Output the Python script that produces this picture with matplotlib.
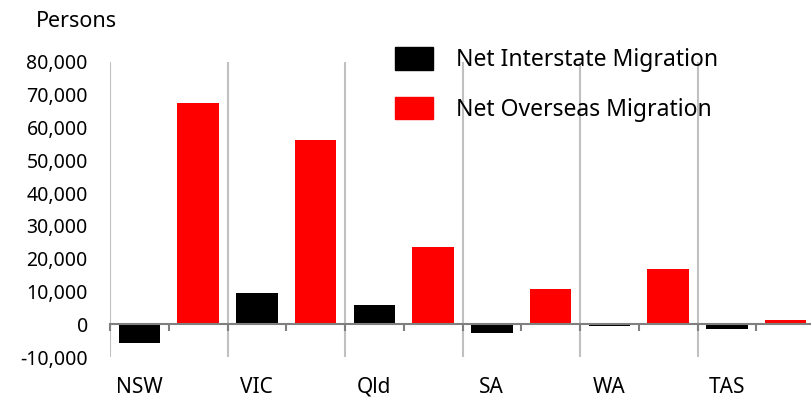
import matplotlib.pyplot as plt
import numpy as np
from matplotlib.patches import Patch
from matplotlib.ticker import FuncFormatter

# Net migration by state, persons
states = ['NSW', 'VIC', 'Qld', 'SA', 'WA', 'TAS']
net_interstate = [-5800, 9500, 5800, -2750, -600, -1500]
net_overseas = [67500, 56200, 23500, 10600, 16800, 1200]

plt.rcParams['font.family'] = ['Noto Sans', 'DejaVu Sans']

fig = plt.figure(figsize=(8.11, 4.0), dpi=100)
ax = fig.add_axes([110 / 811, 43 / 400, 705 / 811, 295 / 400])

x = np.arange(len(states))
w = 0.355
ax.bar(x - 0.25, net_interstate, width=w, color='black', zorder=3)
ax.bar(x + 0.25, net_overseas, width=w, color='#ff0000', zorder=3)

ax.set_xlim(-0.5, len(states) - 0.5)
ax.set_ylim(-10000, 80000)
ax.set_yticks(np.arange(-10000, 80001, 10000))
ax.yaxis.set_major_formatter(FuncFormatter(lambda v, p: f'{int(v):,}'))
ax.tick_params(axis='y', length=0, pad=16, labelsize=14)

# vertical separators between states
for b in x - 0.5:
    ax.axvline(b, color='#c0c0c0', lw=1.5, zorder=1)

# zero line with small ticks between the bars
for s in ['top', 'right', 'left']:
    ax.spines[s].set_visible(False)
ax.spines['bottom'].set_position(('data', 0))
ax.spines['bottom'].set_color('#7f7f7f')
ax.spines['bottom'].set_linewidth(1.5)
ax.spines['bottom'].set_zorder(4)
ax.set_xticks(np.arange(-0.5, len(states) - 0.4, 0.5))
ax.set_xticklabels([])
ax.tick_params(axis='x', length=5, width=1.5, color='#7f7f7f', direction='out')

for i, s in enumerate(states):
    ax.text(i - 0.25, -0.122, s, transform=ax.get_xaxis_transform(),
            ha='center', va='baseline', fontsize=15)

fig.text(36 / 811, 1 - 27 / 400, 'Persons', ha='left', va='baseline', fontsize=15.5)

handles = [Patch(color='black'), Patch(color='#ff0000')]
ax.legend(handles, ['Net Interstate Migration', 'Net Overseas Migration'],
          loc='upper left', bbox_to_anchor=(377 / 811, 1 - 29 / 400),
          bbox_transform=fig.transFigure, frameon=False, fontsize=16.5,
          handlelength=1.65, handleheight=1.15, labelspacing=1.05,
          handletextpad=1.0, borderpad=0.3)

fig.savefig('out.png', dpi=100)
